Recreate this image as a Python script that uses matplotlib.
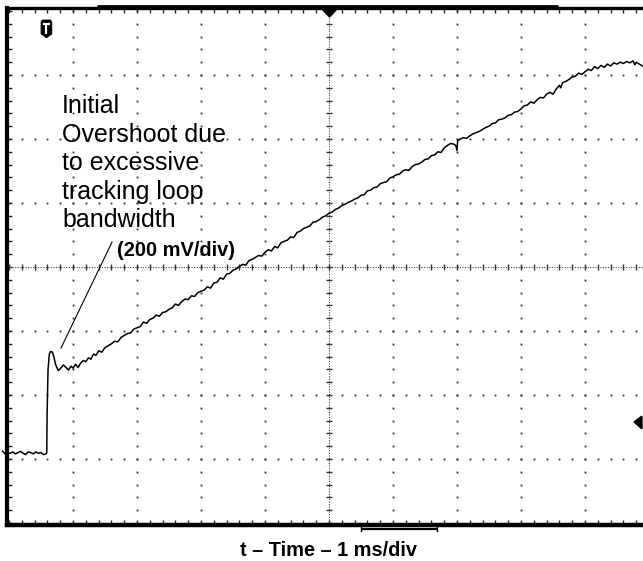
import numpy as np
import matplotlib
matplotlib.use("Agg")
import matplotlib.pyplot as plt
from matplotlib.patches import Polygon

plt.rcParams['font.family'] = ['Liberation Sans', 'DejaVu Sans']

# scope trace, in divisions (x: 1 ms/div, y: 200 mV/div)
trace_x = [-0.10, -0.06, -0.02, 0.02, 0.06, 0.10, 0.14, 0.18, 0.22, 0.26, 0.30, 0.34, 0.38, 0.42,
           0.46, 0.50, 0.54, 0.58, 0.59, 0.595, 0.61, 0.63, 0.65, 0.68, 0.70, 0.73, 0.77, 0.81,
           0.85, 0.89, 0.93, 0.97, 1.00, 1.04, 1.08, 1.12, 1.16, 1.20, 1.24, 1.28, 1.32, 1.36,
           1.40, 1.45, 1.50, 1.55, 1.60, 1.65, 1.70, 1.75, 1.80, 1.85, 1.90, 1.95, 2.00, 2.05,
           2.10, 2.15, 2.20, 2.25, 2.30, 2.35, 2.40, 2.45, 2.50, 2.55, 2.60, 2.65, 2.70, 2.75,
           2.80, 2.85, 2.90, 2.95, 3.00, 3.05, 3.10, 3.15, 3.20, 3.25, 3.30, 3.35, 3.40, 3.45,
           3.50, 3.55, 3.60, 3.65, 3.70, 3.75, 3.80, 3.85, 3.90, 3.95, 4.00, 4.05, 4.10, 4.15,
           4.20, 4.25, 4.30, 4.35, 4.40, 4.45, 4.50, 4.55, 4.60, 4.65, 4.70, 4.75, 4.80, 4.85,
           4.90, 4.95, 5.00, 5.05, 5.10, 5.15, 5.20, 5.25, 5.30, 5.35, 5.40, 5.45, 5.50, 5.55,
           5.60, 5.65, 5.70, 5.75, 5.80, 5.85, 5.90, 5.95, 6.00, 6.05, 6.10, 6.15, 6.20, 6.25,
           6.30, 6.35, 6.40, 6.45, 6.50, 6.55, 6.60, 6.65, 6.70, 6.75, 6.80, 6.85, 6.90, 6.95,
           6.98, 7.00, 7.01, 7.05, 7.10, 7.15, 7.20, 7.25, 7.30, 7.35, 7.40, 7.45, 7.50, 7.55,
           7.60, 7.65, 7.70, 7.75, 7.80, 7.85, 7.90, 7.95, 8.00, 8.05, 8.10, 8.15, 8.20, 8.25,
           8.30, 8.35, 8.40, 8.45, 8.50, 8.55, 8.60, 8.62, 8.65, 8.70, 8.75, 8.80, 8.85, 8.90,
           8.95, 9.00, 9.05, 9.10, 9.15, 9.20, 9.25, 9.30, 9.35, 9.40, 9.45, 9.50, 9.55, 9.60,
           9.65, 9.70, 9.75, 9.78, 9.80, 9.85, 9.90]
trace_y = [-2.88, -2.92, -2.90, -2.91, -2.89, -2.92, -2.90, -2.88, -2.91, -2.93, -2.89, -2.90, -2.92, -2.89,
           -2.91, -2.90, -2.93, -2.92, -2.90, -2.30, -1.60, -1.36, -1.32, -1.33, -1.40, -1.53, -1.62, -1.58,
           -1.53, -1.57, -1.61, -1.55, -1.58, -1.52, -1.57, -1.50, -1.46, -1.48, -1.42, -1.44, -1.36, -1.38,
           -1.31, -1.33, -1.26, -1.23, -1.20, -1.16, -1.17, -1.10, -1.07, -1.04, -1.03, -0.97, -0.95, -0.93,
           -0.86, -0.88, -0.82, -0.80, -0.75, -0.77, -0.71, -0.70, -0.66, -0.64, -0.58, -0.60, -0.54, -0.50,
           -0.51, -0.45, -0.46, -0.40, -0.38, -0.36, -0.31, -0.33, -0.25, -0.24, -0.17, -0.19, -0.11, -0.10,
           -0.05, -0.03, 0.01, 0.04, 0.03, 0.10, 0.12, 0.15, 0.18, 0.17, 0.23, 0.27, 0.25, 0.32,
           0.30, 0.38, 0.40, 0.42, 0.47, 0.46, 0.54, 0.56, 0.60, 0.62, 0.64, 0.70, 0.71, 0.74,
           0.78, 0.80, 0.84, 0.86, 0.90, 0.92, 0.96, 0.98, 1.01, 1.03, 1.06, 1.08, 1.12, 1.13,
           1.19, 1.20, 1.24, 1.25, 1.30, 1.32, 1.33, 1.39, 1.41, 1.44, 1.45, 1.50, 1.52, 1.51,
           1.57, 1.60, 1.61, 1.64, 1.68, 1.69, 1.74, 1.75, 1.80, 1.79, 1.86, 1.90, 1.93, 1.92,
           1.90, 1.82, 1.97, 2.00, 2.02, 2.01, 2.05, 2.08, 2.10, 2.12, 2.15, 2.18, 2.20, 2.24,
           2.25, 2.30, 2.31, 2.33, 2.37, 2.38, 2.42, 2.43, 2.47, 2.52, 2.53, 2.58, 2.56, 2.61,
           2.65, 2.64, 2.70, 2.73, 2.70, 2.78, 2.84, 2.80, 2.88, 2.90, 2.93, 2.97, 2.98, 3.03,
           3.01, 3.05, 3.09, 3.07, 3.13, 3.10, 3.15, 3.12, 3.17, 3.14, 3.19, 3.17, 3.20, 3.18,
           3.21, 3.19, 3.22, 3.16, 3.20, 3.17, 3.14]

note_lines = ["Initial", "Overshoot due", "to excessive", "tracking loop", "bandwidth"]
scale_label = "(200 mV/div)"
time_label = "t \u2013 Time \u2013 1 ms/div"

W, H = 643, 561
PX = 64.0  # pixels per division

fig = plt.figure(figsize=(W / 100, H / 100), dpi=100)
# axes box: left edge at px 7, top at py 8, bottom at py 525, right runs off the picture
ax = fig.add_axes([7 / W, (H - 525) / H, 642 / W, 517 / H])
ax.set_xlim(-2 / PX, 10)
ax.set_ylim(-258 / PX, 259 / PX)

for side in ['left', 'top', 'bottom']:
    ax.spines[side].set_color('black')
ax.spines['left'].set_linewidth(3.0)
ax.spines['top'].set_linewidth(2.4)
ax.spines['bottom'].set_linewidth(3.2)
ax.spines['right'].set_visible(False)

# minor division ticks on the frame edges
ax.set_xticks(np.arange(0, 10.01, 0.2))
ax.set_yticks(np.arange(-4, 4.01, 0.2))
ax.tick_params(direction='in', length=3.5, width=1.0, color='#222222',
               top=True, bottom=True, left=True, right=False,
               labelbottom=False, labelleft=False)

# dotted graticule
dots = np.arange(-4, 4.01, 0.2)
for gx in [1, 2, 3, 4, 6, 7, 8, 9]:
    ax.plot(np.full_like(dots, gx), dots, ls='none', marker='s', ms=1.3, mew=0, color='#333333')
dots = np.arange(0, 10.01, 0.2)
for gy in [-3, -2, -1, 1, 2, 3]:
    ax.plot(dots, np.full_like(dots, gy), ls='none', marker='s', ms=1.3, mew=0, color='#333333')

# centre lines: fine dotted with tick marks
ax.axvline(5, color='#444444', lw=0.8, ls=(0, (1, 1.3)))
ax.axhline(0, color='#444444', lw=0.8, ls=(0, (1, 1.3)))
cy = np.arange(-4, 4.01, 0.2)
ax.plot(np.full_like(cy, 5), cy, ls='none', marker='_', ms=5, mew=1.0, color='#333333')
cx = np.arange(0, 10.01, 0.2)
ax.plot(cx, np.full_like(cx, 0), ls='none', marker='|', ms=5, mew=1.0, color='#333333')

# the trace
ax.plot(trace_x, trace_y, color='black', lw=1.1, clip_on=False, zorder=5)

# annotation leader
ax.plot([1.61, 0.8125], [0.39, -1.266], color='black', lw=0.8, zorder=5)

# text lines
base = (267 - 113) / PX
step = 28.5 / PX
for i, line in enumerate(note_lines):
    ax.text(0.83, base - i * step, line, fontsize=18, va='baseline', ha='left', color='black')
ax.text(1.6875, 0.17, scale_label, fontsize=14.4, fontweight='bold', va='baseline', ha='left')

fig.text(328 / W, 1 - 556 / H, time_label, fontsize=14.4, fontweight='bold',
         ha='center', va='baseline')

# trigger "T" badge
badge = Polygon([(0.50, 3.83), (0.52, 3.86), (0.65, 3.86), (0.67, 3.83), (0.67, 3.64),
                 (0.585, 3.58), (0.50, 3.64)], closed=True, fc='black', ec='black', lw=0.5, zorder=6)
ax.add_patch(badge)
ax.plot([0.53, 0.64], [3.79, 3.79], color='white', lw=1.6, zorder=7, solid_capstyle='butt')
ax.plot([0.585, 0.585], [3.79, 3.64], color='white', lw=1.6, zorder=7, solid_capstyle='butt')

# trigger position marker (top) and level marker (right)
ax.add_patch(Polygon([(4.89, 4.03), (5.125, 4.03), (5.008, 3.906)], closed=True,
                     fc='black', ec='black', clip_on=False, zorder=6))
ax.add_patch(Polygon([(9.766, -2.42), (9.89, -2.33), (9.89, -2.53)], closed=True,
                     fc='black', ec='black', clip_on=False, zorder=6))

# record-length bars on the frame
ax.plot([(97 - 9) / PX, (558 - 9) / PX], [(267 - 6) / PX] * 2, color='black', lw=2.0,
        clip_on=False, solid_capstyle='butt')
ax.plot([(361 - 9) / PX, (437 - 9) / PX], [(267 - 529) / PX] * 2, color='black', lw=1.6,
        clip_on=False, solid_capstyle='butt')
for bx in [361, 437]:
    ax.plot([(bx - 9) / PX] * 2, [(267 - 526) / PX, (267 - 531) / PX], color='black', lw=1.0,
            clip_on=False)

fig.savefig("out.png", dpi=100)
